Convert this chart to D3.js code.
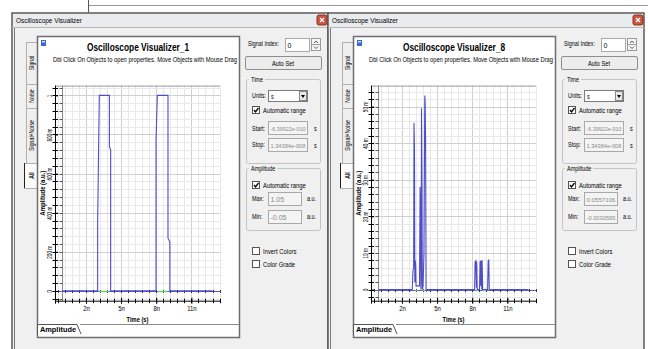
<!DOCTYPE html>
<html>
<head>
<meta charset="utf-8">
<script src="https://cdn.jsdelivr.net/npm/d3@7"></script>
<style>
  body { margin: 0; background: #fff; }
  svg { display: block; font-family: "Liberation Sans", Arial, sans-serif; }
</style>
</head>
<body>
<svg id="chart" width="648" height="349"></svg>
<script>
// ---- data (time in ns, amplitude in a.u.) ----
const timeDomain = [-0.639922, 13.4384];
const timeTicks = [2, 5, 8, 11];
const timeTickLabels = ["2n", "5n", "8n", "11n"];

const amp1Domain = [-0.05, 1.05];
const amp1Ticks = [0, 0.2, 0.4, 0.6, 0.8, 1];
const amp1TickLabels = ["0", "200 m", "400 m", "600 m", "800 m", "1"];
const scope1Trace = [
  [0, 0], [3.0, 0], [3.0, 0.35], [3.14, 1], [4.0, 1], [4.0, 0.74], [4.11, 0.72], [4.11, 0],
  [7.98, 0], [7.98, 0.77], [8.09, 1], [9.0, 1], [9.0, 0.27], [9.16, 0.25], [9.16, 0], [12.8, 0]
];
const scope1Green = [[3.12, 3.95], [8.12, 8.95]];

const amp8Domain = [-0.0030595, 0.0557106];
const amp8Ticks = [0, 0.01, 0.02, 0.03, 0.04, 0.05];
const amp8TickLabels = ["0", "10 m", "20 m", "30 m", "40 m", "50 m"];
const scope8Trace = [
  [0, 0], [2.88, 0], [2.94, 0.005], [3.0, 0.006], [3.03, 0.0455], [3.07, 0.038], [3.1, 0.002],
  [3.13, 0.008], [3.17, 0.007], [3.2, 0.001], [3.5, 0.001], [3.55, 0.028], [3.58, 0.02], [3.62, 0],
  [3.64, 0.002], [3.67, 0.0495], [3.71, 0.03], [3.74, 0], [3.8, 0.001], [3.88, 0.01], [3.95, 0.053],
  [3.98, 0.051], [4.02, 0.04], [4.06, 0], [4.1, -0.0004], [4.15, 0],
  [8.2, 0], [8.24, 0.0075], [8.31, 0.0078], [8.35, 0.0005], [8.38, 0.0076], [8.42, 0],
  [8.62, 0], [8.67, 0.0078], [8.71, 0.001], [8.75, 0.0079], [8.81, 0], [8.84, 0.008], [8.89, 0],
  [9.31, 0], [9.36, 0.0078], [9.41, 0.008], [9.45, 0], [12.8, 0]
];
const scope8Green = [[3.1, 3.3], [3.75, 3.95], [8.3, 8.5], [8.9, 9.2]];

const scopes = [
  { x0: 12, name: "Oscilloscope Visualizer_1", amp: amp1Domain, ticks: amp1Ticks, labels: amp1TickLabels,
    trace: scope1Trace, green: scope1Green, start: "-6.39922e-010", stop: "1.34384e-008", max: "1.05", min: "-0.05" },
  { x0: 328, name: "Oscilloscope Visualizer_8", amp: amp8Domain, ticks: amp8Ticks, labels: amp8TickLabels,
    trace: scope8Trace, green: scope8Green, start: "-6.39922e-010", stop: "1.34384e-008", max: "0.0557106", min: "-0.0030595" }
];

const svg = d3.select("#chart");

// stuff behind the windows
svg.append("line").attr("x1", 88).attr("x2", 648).attr("y1", 5.5).attr("y2", 5.5).attr("stroke", "#999");
svg.append("line").attr("x1", 88.5).attr("x2", 88.5).attr("y1", 0).attr("y2", 13).attr("stroke", "#555");

// the screenshot font is narrow, so squeeze the text along its length
function squeeze(t, k, maxLen) {
  const n = t.node().getComputedTextLength();
  let len = n * k;
  if (maxLen && len > maxLen) len = maxLen;
  t.attr("textLength", len).attr("lengthAdjust", "spacingAndGlyphs");
}

function txt(g, x, y, s, size, opts = {}) {
  const t = g.append("text").attr("x", x).attr("y", y).attr("font-size", size)
    .attr("fill", opts.fill || "#000").text(s);
  if (opts.anchor) t.attr("text-anchor", opts.anchor);
  if (opts.bold) t.attr("font-weight", "bold");
  if (opts.rotate) t.attr("transform", `rotate(-90,${x},${y})`);
  if (opts.len) t.attr("textLength", opts.len).attr("lengthAdjust", "spacingAndGlyphs");
  else if (opts.k !== 1) squeeze(t, opts.k || 0.78, opts.max);
  return t;
}

function checkbox(g, x, y, checked, label) {
  g.append("rect").attr("x", x + 0.5).attr("y", y + 0.5).attr("width", 7).attr("height", 7)
    .attr("fill", "#fff").attr("stroke", "#555");
  if (checked) {
    g.append("path").attr("d", `M${x + 2},${y + 4} L${x + 3.5},${y + 6} L${x + 6.5},${y + 2}`)
      .attr("fill", "none").attr("stroke", "#000").attr("stroke-width", 1.3);
  }
  txt(g, x + 11, y + 7, label, 7, { k: 0.84 });
}

function textbox(g, x, y, w, value, disabled) {
  g.append("rect").attr("x", x + 0.5).attr("y", y + 0.5).attr("width", w).attr("height", 13)
    .attr("fill", disabled ? "#f4f4f4" : "#fff").attr("stroke", "#a9a9a9");
  // value shrinks its font until it fits in the box
  const t = txt(g, x + 2.5, y + 9.5, value, 7, { fill: disabled ? "#8a8a8a" : "#000", k: 1 });
  const n = t.node().getComputedTextLength();
  if (n > w - 4) t.attr("font-size", 7 * (w - 4) / n);
}

function groupBox(g, x, y, w, h, title) {
  g.append("rect").attr("x", x + 0.5).attr("y", y + 0.5).attr("width", w).attr("height", h)
    .attr("rx", 2).attr("fill", "none").attr("stroke", "#c4c4c4");
  const t = txt(g, x + 5, y + 3, title, 7);
  const tw = +t.attr("textLength");
  g.insert("rect", () => t.node()).attr("x", x + 3).attr("y", y - 3).attr("width", tw + 4).attr("height", 7).attr("fill", "#f0f0f0");
}

function drawWindow(cfg) {
  const x0 = cfg.x0;
  const g = svg.append("g");

  // frame + title bar
  g.append("rect").attr("x", x0).attr("y", 13).attr("width", 316).attr("height", 345)
    .attr("fill", "#f0f0f0").attr("stroke", "#5a5a5a").attr("stroke-width", 1.5);
  g.append("rect").attr("x", x0 + 1).attr("y", 14).attr("width", 314).attr("height", 13).attr("fill", "#e9ecef");
  g.append("line").attr("x1", x0).attr("x2", x0 + 316).attr("y1", 27.5).attr("y2", 27.5).attr("stroke", "#b8b8b8");
  txt(g, x0 + 4, 23, "Oscilloscope Visualizer", 7.5, { len: 66 });
  g.append("rect").attr("x", x0 + 305).attr("y", 15).attr("width", 10).attr("height", 10).attr("rx", 2)
    .attr("fill", "#d0553e").attr("stroke", "#8a3020");
  g.append("path").attr("d", `M${x0 + 308},${18} L${x0 + 312},${22} M${x0 + 312},${18} L${x0 + 308},${22}`)
    .attr("stroke", "#fff").attr("stroke-width", 1.2);
  g.append("line").attr("x1", x0 + 2.5).attr("x2", x0 + 2.5).attr("y1", 28).attr("y2", 349).attr("stroke", "#7a7a7a");

  // vertical tabs
  const tabs = [["Signal", 42, 84], ["Noise", 84, 108], ["Signal+Noise", 108, 163], ["All", 163, 188]];
  tabs.forEach(([name, a, b]) => {
    const sel = name === "All";
    g.append("rect").attr("x", x0 + (sel ? 12.5 : 14.5)).attr("y", a + 0.5).attr("width", sel ? 13 : 11)
      .attr("height", b - a).attr("fill", sel ? "#fbfbfb" : "#efefef").attr("stroke", "#b0b0b0");
    txt(g, x0 + (sel ? 21.5 : 22), (a + b) / 2, name, 6.5, { anchor: "middle", rotate: true, bold: sel, k: 0.8 });
  });
  g.append("line").attr("x1", x0 + 12.5).attr("x2", x0 + 12.5).attr("y1", 163).attr("y2", 188)
    .attr("stroke", "#222");

  // plot panel
  g.append("rect").attr("x", x0 + 25.5).attr("y", 36.5).attr("width", 202).attr("height", 301)
    .attr("fill", "#fff").attr("stroke", "#6e6e6e").attr("stroke-width", 1.5);
  g.append("rect").attr("x", x0 + 29).attr("y", 40).attr("width", 5).attr("height", 6).attr("fill", "#3a6ad0");
  g.append("rect").attr("x", x0 + 30).attr("y", 41).attr("width", 3).attr("height", 1.5).attr("fill", "#cde");
  txt(g, x0 + 126, 51, cfg.name, 11, { anchor: "middle", bold: true, len: 102 });
  txt(g, x0 + 133, 62, "Dbl Click On Objects to open properties.  Move Objects with Mouse Drag", 6.3,
    { anchor: "middle", len: 184 });

  // bottom tab
  g.append("line").attr("x1", x0 + 68).attr("x2", x0 + 227).attr("y1", 324.5).attr("y2", 324.5).attr("stroke", "#8a8a8a");
  g.append("path").attr("d", `M${x0 + 25.5},334 L${x0 + 25.5},324.5 L${x0 + 65},324.5 L${x0 + 69},334`)
    .attr("fill", "#fff").attr("stroke", "#555");
  txt(g, x0 + 28, 332, "Amplitude", 7, { bold: true, len: 36 });

  // ---- the plot ----
  const px0 = x0 + 43, px1 = x0 + 208, py0 = 85.6, py1 = 300.7;
  const x = d3.scaleLinear().domain(timeDomain).range([px0, px1]);
  const y = d3.scaleLinear().domain(cfg.amp).range([py1, py0]);
  const tStep = 0.6;
  const aStep = (cfg.ticks[1] - cfg.ticks[0]) / 5;

  const minorA = d3.range(Math.ceil(cfg.amp[0] / aStep) - 1, Math.floor(cfg.amp[1] / aStep) + 1)
    .map(i => i * aStep).filter(v => v >= cfg.amp[0] && v <= cfg.amp[1]);
  const tMinor = d3.range(-1, 14, tStep).filter(t => t >= timeDomain[0] && t <= timeDomain[1]);

  const grid = g.append("g");
  grid.selectAll(".vg").data(tMinor).join("line")
    .attr("x1", d => Math.round(x(d)) + 0.5).attr("x2", d => Math.round(x(d)) + 0.5)
    .attr("y1", py0).attr("y2", py1)
    .attr("stroke", d => Math.abs((d - 2) / 3 - Math.round((d - 2) / 3)) < 1e-6 ? "#cfcfcf" : "#e8e8e8");
  grid.selectAll(".hg").data(minorA).join("line")
    .attr("x1", px0).attr("x2", px1)
    .attr("y1", d => Math.round(y(d)) + 0.5).attr("y2", d => Math.round(y(d)) + 0.5)
    .attr("stroke", d => cfg.ticks.some(t => Math.abs(t - d) < aStep / 10) ? "#cfcfcf" : "#e8e8e8");
  grid.append("line").attr("x1", px0).attr("x2", px1).attr("y1", py0 + 0.5).attr("y2", py0 + 0.5).attr("stroke", "#9a9a9a");

  // origin axes (t = 0, a = 0)
  const ox = Math.round(x(0)) + 0.5, oy = Math.round(y(0)) + 0.5;
  g.append("line").attr("x1", ox).attr("x2", ox).attr("y1", py0).attr("y2", py1).attr("stroke", "#8a8a8a");
  g.selectAll(".oyt").data(minorA).join("line").attr("x1", ox - 3).attr("x2", ox)
    .attr("y1", d => Math.round(y(d)) + 0.5).attr("y2", d => Math.round(y(d)) + 0.5).attr("stroke", "#555");
  g.append("line").attr("x1", px0).attr("x2", px1).attr("y1", oy).attr("y2", oy).attr("stroke", "#5b5bc8");
  g.selectAll(".oxt").data(tMinor).join("line")
    .attr("x1", d => Math.round(x(d)) + 0.5).attr("x2", d => Math.round(x(d)) + 0.5)
    .attr("y1", oy - 1.5).attr("y2", oy + 1.5).attr("stroke", "#334");

  // frame axes
  const xAxis = d3.axisBottom(x).tickValues(timeTicks).tickFormat((d, i) => timeTickLabels[i]).tickSize(3).tickPadding(2);
  const gx = g.append("g").attr("transform", `translate(0,${py1})`).call(xAxis);
  gx.select(".domain").attr("stroke", "#000").attr("d", `M${px0},0.5H${px1}`);
  gx.selectAll(".tick line").attr("y1", -3);
  gx.selectAll("text").attr("font-size", 7).attr("font-family", null).attr("dy", "0.7em")
    .each(function () { squeeze(d3.select(this), 0.85); });
  g.selectAll(".xmt").data(tMinor).join("line")
    .attr("x1", d => Math.round(x(d)) + 0.5).attr("x2", d => Math.round(x(d)) + 0.5)
    .attr("y1", py1 - 2).attr("y2", py1 + 2.5).attr("stroke", "#000");

  const yAxis = d3.axisLeft(y).tickValues(cfg.ticks).tickFormat((d, i) => cfg.labels[i]).tickSize(3);
  const gy = g.append("g").attr("transform", `translate(${px0},0)`).call(yAxis);
  gy.select(".domain").attr("stroke", "#000").attr("d", `M0.5,${py0}V${py1 + 3}`);
  gy.selectAll(".tick line").attr("x2", 3);
  gy.selectAll("text").attr("font-size", 6.5).attr("font-family", null)
    .attr("text-anchor", "middle").attr("x", 0).attr("y", 0).attr("dy", 0)
    .attr("transform", "translate(-3,0) rotate(-90)")
    .each(function () { squeeze(d3.select(this), 0.72); });
  g.selectAll(".ymt").data(minorA).join("line")
    .attr("x1", px0 - 2.5).attr("x2", px0 + 3)
    .attr("y1", d => Math.round(y(d)) + 0.5).attr("y2", d => Math.round(y(d)) + 0.5).attr("stroke", "#000");

  txt(g, (px0 + px1) / 2, 322, "Time (s)", 7, { anchor: "middle", bold: true, k: 0.82 });
  txt(g, px0 - 9.5, (py0 + py1) / 2, "Amplitude (a.u.)", 7, { anchor: "middle", bold: true, rotate: true, k: 0.85 });

  // green trace segments on the baseline
  g.selectAll(".gn").data(cfg.green).join("line")
    .attr("x1", d => x(d[0])).attr("x2", d => x(d[1])).attr("y1", oy).attr("y2", oy)
    .attr("stroke", "#6fd06f").attr("stroke-width", 1.5);

  // signal trace
  const line = d3.line().x(d => x(d[0])).y(d => y(d[1]));
  g.append("path").datum(cfg.trace).attr("d", line)
    .attr("fill", "none").attr("stroke", "#4d4dc8").attr("stroke-width", 1.1);

  // ---- control panel ----
  const c = x0 + 233;
  txt(g, c + 3, 46, "Signal Index:", 7, { len: 31 });
  textbox(g, x0 + 273, 38, 24, "0", false);
  g.append("rect").attr("x", x0 + 299.5).attr("y", 38.5).attr("width", 9).attr("height", 12)
    .attr("fill", "#f4f4f4").attr("stroke", "#9a9a9a");
  g.append("line").attr("x1", x0 + 300).attr("x2", x0 + 308).attr("y1", 44.5).attr("y2", 44.5).attr("stroke", "#9a9a9a");
  g.append("path").attr("d", `M${x0 + 302},43 L${x0 + 304},41 L${x0 + 306},43 M${x0 + 302},46.5 L${x0 + 304},48.5 L${x0 + 306},46.5`)
    .attr("fill", "none").attr("stroke", "#333").attr("stroke-width", 0.8);

  g.append("rect").attr("x", c + 0.5).attr("y", 56.5).attr("width", 76).attr("height", 13).attr("rx", 1.5)
    .attr("fill", "#ececec").attr("stroke", "#8e8e8e");
  txt(g, c + 38, 66, "Auto Set", 7, { anchor: "middle", k: 0.82 });

  groupBox(g, c + 1, 79, 74, 84, "Time");
  txt(g, c + 7, 98, "Units:", 7);
  g.append("rect").attr("x", x0 + 256.5).attr("y", 90.5).attr("width", 39).attr("height", 11)
    .attr("fill", "#fff").attr("stroke", "#7a7a7a");
  txt(g, x0 + 259, 99, "s", 7);
  g.append("rect").attr("x", x0 + 287.5).attr("y", 91.5).attr("width", 7).attr("height", 9).attr("fill", "#e8e8e8").attr("stroke", "#888");
  g.append("path").attr("d", `M${x0 + 289},95 L${x0 + 293},95 L${x0 + 291},98 Z`).attr("fill", "#000");
  checkbox(g, c + 7, 106, true, "Automatic range");
  txt(g, c + 7, 131, "Start:", 7);
  textbox(g, x0 + 256, 121, 39, cfg.start, true);
  txt(g, x0 + 302, 131, "s", 7);
  txt(g, c + 7, 147, "Stop:", 7);
  textbox(g, x0 + 256, 138, 39, cfg.stop, true);
  txt(g, x0 + 302, 148, "s", 7);

  groupBox(g, c + 1, 168, 74, 62, "Amplitude");
  checkbox(g, c + 7, 181, true, "Automatic range");
  txt(g, c + 7, 201, "Max:", 7);
  textbox(g, x0 + 256, 192, 33, cfg.max, true);
  txt(g, x0 + 295, 201, "a.u.", 7);
  txt(g, c + 7, 219, "Min:", 7);
  textbox(g, x0 + 256, 210, 33, cfg.min, true);
  txt(g, x0 + 295, 219, "a.u.", 7);

  checkbox(g, c + 7, 247, false, "Invert Colors");
  checkbox(g, c + 7, 260, false, "Color Grade");
}

scopes.forEach(drawWindow);
</script>
</body>
</html>
